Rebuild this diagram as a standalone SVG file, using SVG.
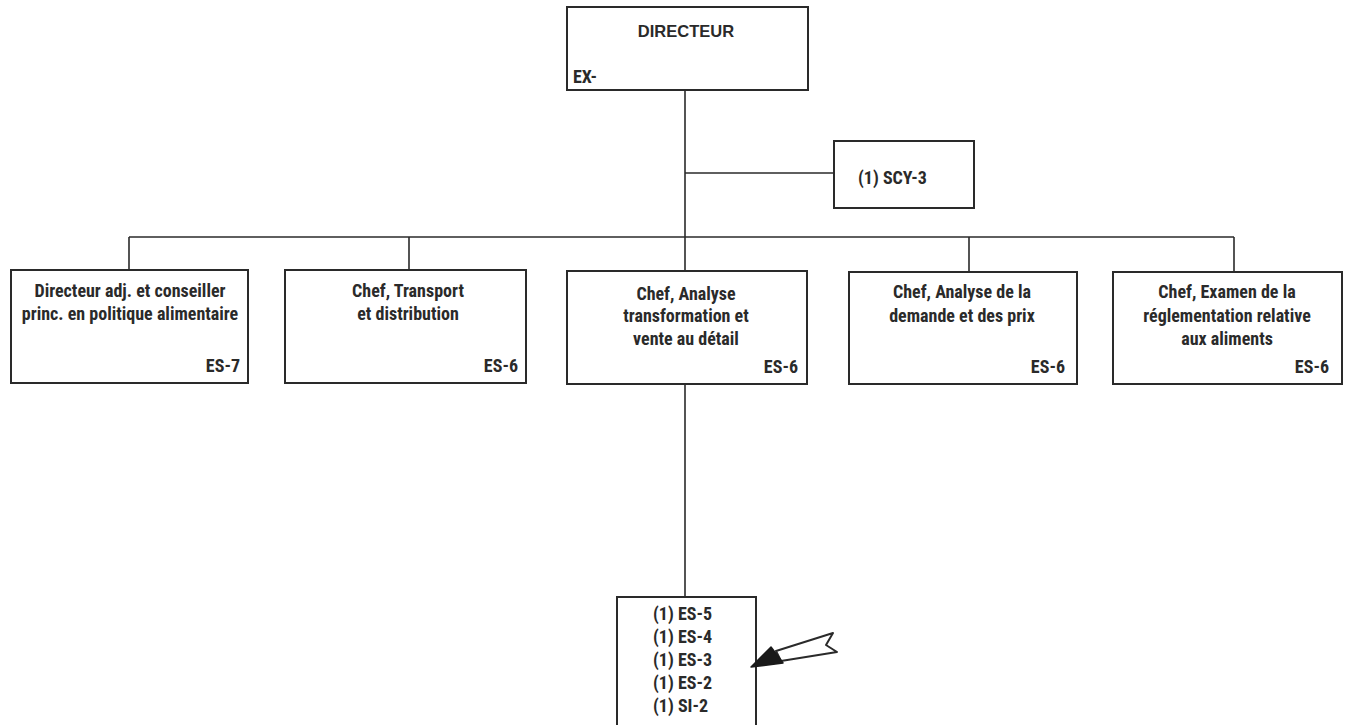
<svg xmlns="http://www.w3.org/2000/svg" width="1351" height="725" viewBox="0 0 1351 725">
  <style>
    .box { fill: #ffffff; stroke: #2a2a2a; stroke-width: 2; }
    .wire { fill: none; stroke: #2a2a2a; stroke-width: 1.6; }
    text { font-family: "Liberation Sans Narrow", "Roboto Condensed", "Liberation Sans", Arial, sans-serif; font-stretch: condensed; font-weight: bold; font-size: 18px; fill: #2a2a2a; }
    .title { font-family: "Liberation Sans", Arial, sans-serif; font-stretch: normal; font-size: 16.5px; }
    .c { text-anchor: middle; }
    .r { text-anchor: end; }
  </style>
  <rect width="1351" height="725" fill="#ffffff"/>

  <g id="connectors">
    <line class="wire" x1="685" y1="90" x2="685" y2="597"/>
    <line class="wire" x1="685" y1="173" x2="834" y2="173"/>
    <line class="wire" x1="129" y1="237" x2="1234" y2="237"/>
    <line class="wire" x1="129" y1="237" x2="129" y2="270"/>
    <line class="wire" x1="409" y1="237" x2="409" y2="270"/>
    <line class="wire" x1="969" y1="237" x2="969" y2="272"/>
    <line class="wire" x1="1234" y1="237" x2="1234" y2="272"/>
  </g>

  <g id="directeur">
    <rect class="box" x="567" y="7" width="241" height="83"/>
    <text class="c title" x="686" y="37">DIRECTEUR</text>
    <text x="573" y="83">EX-</text>
  </g>

  <g id="scy3">
    <rect class="box" x="834" y="141" width="140" height="67"/>
    <text x="858" y="184">(1) SCY-3</text>
  </g>

  <g id="directeur-adj">
    <rect class="box" x="11" y="270" width="237" height="113"/>
    <text class="c" x="130" y="297">Directeur adj. et conseiller</text>
    <text class="c" x="130" y="320">princ. en politique alimentaire</text>
    <text class="r" x="240" y="372">ES-7</text>
  </g>

  <g id="transport">
    <rect class="box" x="285" y="270" width="241" height="113"/>
    <text class="c" x="408" y="297">Chef, Transport</text>
    <text class="c" x="408" y="320">et distribution</text>
    <text class="r" x="518" y="372">ES-6</text>
  </g>

  <g id="transformation">
    <rect class="box" x="567" y="271" width="240" height="113"/>
    <text class="c" x="686" y="300">Chef, Analyse</text>
    <text class="c" x="686" y="322">transformation et</text>
    <text class="c" x="686" y="345">vente au détail</text>
    <text class="r" x="798" y="373">ES-6</text>
  </g>

  <g id="demande">
    <rect class="box" x="849" y="272" width="228" height="112"/>
    <text class="c" x="962" y="298">Chef, Analyse de la</text>
    <text class="c" x="962" y="322">demande et des prix</text>
    <text class="r" x="1065" y="373">ES-6</text>
  </g>

  <g id="reglementation">
    <rect class="box" x="1113" y="272" width="229" height="112"/>
    <text class="c" x="1227" y="298">Chef, Examen de la</text>
    <text class="c" x="1227" y="322">réglementation relative</text>
    <text class="c" x="1227" y="345">aux aliments</text>
    <text class="r" x="1329" y="373">ES-6</text>
  </g>

  <g id="postes">
    <rect class="box" x="617" y="597" width="139" height="130"/>
    <text x="653" y="620">(1) ES-5</text>
    <text x="653" y="643">(1) ES-4</text>
    <text x="653" y="666">(1) ES-3</text>
    <text x="653" y="689">(1) ES-2</text>
    <text x="653" y="712">(1) SI-2</text>
  </g>

  <g id="pointer">
    <path d="M776,651 L833,633 L826,645 L837,652 L781,661 Z" fill="#ffffff" stroke="#2a2a2a" stroke-width="2" stroke-linejoin="round"/>
    <path d="M751,667 L771,647 L783,663 Z" fill="#1a1a1a" stroke="#1a1a1a" stroke-width="1.5" stroke-linejoin="round"/>
  </g>
</svg>
